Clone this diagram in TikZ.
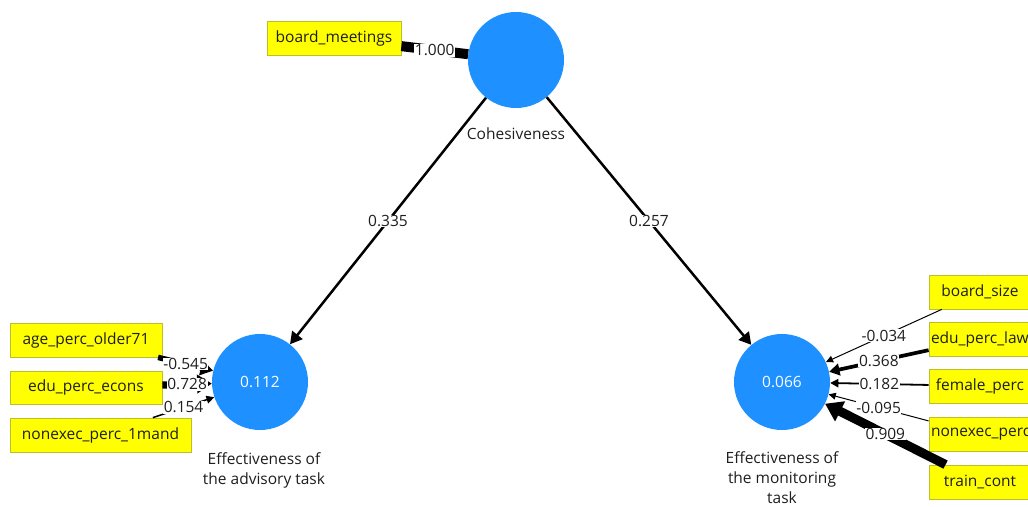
\documentclass[tikz,border=0pt]{standalone}
\usepackage{fontspec}
\setmainfont{Open Sans}
\usetikzlibrary{arrows.meta}
\definecolor{plsblue}{RGB}{30,144,255}
\definecolor{plsyellow}{RGB}{255,255,0}
\definecolor{plsedge}{RGB}{190,190,40}
\definecolor{plstext}{RGB}{30,30,30}
\begin{document}
\begin{tikzpicture}[x=1pt,y=-1pt,
  basefont/.style={font=\fontsize{15.5}{20}\selectfont},
  latent/.style={circle,fill=plsblue,draw=none,minimum size=96pt,inner sep=0pt,
    text=white,basefont},
  caption/.style={align=center,text=plstext,basefont},
  indicator/.style={rectangle,fill=plsyellow,draw=plsedge,line width=0.8pt,
    minimum height=34pt,inner sep=2pt,text=plstext,basefont},
  clipped/.style={text width=98pt,align=left,inner xsep=2pt},
  coef/.style={fill=white,inner sep=0.6pt,text=plstext,basefont},
  structural/.style={line width=2.5pt,-{Triangle[length=12pt,width=13pt]}},
  weight/.style={line width=#1,-{Triangle[length=6pt 1.2,width=5pt 1.8]}},
]
\useasboundingbox (0,0) rectangle (1028,506);
\clip (0,0) rectangle (1028,506);

% latent variables
\node[latent] (coh) at (516,60) {};
\node[latent] (adv) at (260,382) {0.112};
\node[latent] (mon) at (782,382) {0.066};

\node[caption] (cohlab) at (516,134) {Cohesiveness};
\node[caption] (advlab) at (264,470) {Effectiveness of\\the advisory task};
\node[caption] (monlab) at (782,478) {Effectiveness of\\the monitoring\\task};

% indicators
\node[indicator,minimum width=134pt] (bm) at (334,38) {board\_meetings};

\node[indicator,minimum width=152pt] (age) at (86,340) {age\_perc\_older71};
\node[indicator,minimum width=152pt,minimum height=33pt] (econ) at (86,387.5) {edu\_perc\_econs};
\node[indicator,minimum width=181pt] (ne1) at (100.5,435) {nonexec\_perc\_1mand};

\node[indicator,minimum width=102pt] (bsize) at (980,292) {board\_size};
\node[indicator,minimum width=102pt,clipped] (law) at (980,339) {edu\_perc\_law};
\node[indicator,minimum width=102pt] (fem) at (980,386) {female\_perc};
\node[indicator,minimum width=102pt,clipped] (nep) at (980,434.5) {nonexec\_perc};
\node[indicator,minimum width=102pt] (train) at (980,482) {train\_cont};

% connectors
\draw[structural] (coh) -- (adv);
\draw[structural] (coh) -- (mon);

\draw[line width=10pt] (bm) -- (coh);

\draw[weight=5.5pt] (age) -- (adv);
\draw[weight=7.3pt] (econ) -- (adv);
\draw[weight=1.5pt] (ne1) -- (adv);

\draw[weight=1pt] (bsize) -- (mon);
\draw[weight=3.7pt] (law) -- (mon);
\draw[weight=1.8pt] (fem) -- (mon);
\draw[weight=1pt] (nep) -- (mon);
\draw[weight=9.1pt] (train) -- (mon);

% coefficients
\path (coh) -- (adv) node[coef,midway] {0.335};
\path (coh) -- (mon) node[coef,midway] {0.257};
\path (bm) -- (coh) node[coef,midway] {1.000};
\path (age) -- (adv) node[coef,midway] {-0.545};
\path (econ) -- (adv) node[coef,midway] {0.728};
\path (ne1) -- (adv) node[coef,midway] {0.154};
\path (bsize) -- (mon) node[coef,midway] {-0.034};
\path (law) -- (mon) node[coef,midway] {0.368};
\path (fem) -- (mon) node[coef,midway] {0.182};
\path (nep) -- (mon) node[coef,midway] {-0.095};
\path (train) -- (mon) node[coef,midway] {0.909};
\end{tikzpicture}
\end{document}
